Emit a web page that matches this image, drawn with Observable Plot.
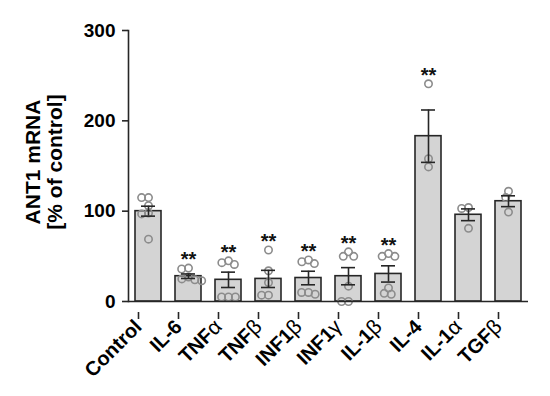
<!DOCTYPE html>
<html>
<head>
<meta charset="utf-8">
<script src="https://cdn.jsdelivr.net/npm/d3@7"></script>
<script src="https://cdn.jsdelivr.net/npm/@observablehq/plot@0.6"></script>
<style>
  html, body { margin: 0; padding: 0; background: #fff; }
</style>
</head>
<body>
<div id="chart"></div>
<script>
// ---- data ----
const categories = ["Control", "IL-6", "TNFα", "TNFβ", "INF1β", "INF1γ", "IL-1β", "IL-4", "IL-1α", "TGFβ"];
const means = [100, 28, 24, 25, 26, 28, 30.5, 183, 96, 111];
const sems  = [5.5, 2.5, 8.5, 9.5, 7.5, 9.5, 9, 29, 6.5, 6];
const stars = ["", "**", "**", "**", "**", "**", "**", "**", "", ""];

const ptsControl = [115, 115, 106, 98, 97, 69];
const ptsIL6     = [37, 36, 27, 25, 24, 23];
const ptsTNFa    = [45, 43, 41, 5, 5, 5];
const ptsTNFb    = [57, 34, 21, 7, 7];
const ptsINF1b   = [46, 44, 42, 10, 10, 8];
const ptsINF1g   = [55, 50, 50, 17, 0, 0];
const ptsIL1b    = [53, 50, 50, 15, 9, 8];
const ptsIL4     = [241, 158, 149];
const ptsIL1a    = [104, 103, 81];
const ptsTGFb    = [122, 115, 99];
const pointsByCategory = [ptsControl, ptsIL6, ptsTNFa, ptsTNFb, ptsINF1b, ptsINF1g, ptsIL1b, ptsIL4, ptsIL1a, ptsTGFb];

const yTicks = [0, 100, 200, 300];
const yLabelLines = ["ANT1 mRNA", "[% of control]"];

// ---- tables built from the arrays ----
const summary = categories.map((c, i) => ({
  cat: c, mean: means[i], sem: sems[i], star: stars[i], top: d3.max(pointsByCategory[i])
}));
const points = categories.flatMap((c, i) => pointsByCategory[i].map(v => ({cat: c, value: v})));

const ink = "#262626";
const lw = 1.6;

const svg = Plot.plot({
  width: 550,
  height: 396,
  marginLeft: 123,
  marginRight: 18,
  marginTop: 30,
  marginBottom: 95,
  style: {fontFamily: "'Liberation Sans', Arial, Helvetica, sans-serif", fontSize: "16px", color: "#000", background: "#fff"},
  fx: {domain: categories, padding: 0},
  y: {domain: [0, 300]},
  marks: [
    Plot.barY(summary, {fx: "cat", y: "mean", fill: "#d4d4d4", stroke: ink, strokeWidth: lw, insetLeft: 7, insetRight: 7}),
    Plot.dot(points, Plot.dodgeX({anchor: "middle", padding: -0.5}, {fx: "cat", y: "value", r: 3.7, fill: "none", stroke: "#8c8c8c", strokeWidth: 1.6})),
    Plot.ruleX(summary, {fx: "cat", x: null, y1: d => d.mean - d.sem, y2: d => d.mean + d.sem, stroke: ink, strokeWidth: lw}),
    Plot.tickY(summary, {fx: "cat", y: d => d.mean + d.sem, insetLeft: 13, insetRight: 13, stroke: ink, strokeWidth: lw}),
    Plot.tickY(summary, {fx: "cat", y: d => d.mean - d.sem, insetLeft: 13, insetRight: 13, stroke: ink, strokeWidth: lw}),
    Plot.text(summary.filter(d => d.star), {fx: "cat", y: "top", text: "star", dy: -8, fontSize: 20, fontWeight: "bold", fill: "#111"}),
    Plot.ruleY([0], {stroke: ink, strokeWidth: lw}),
    Plot.frame({anchor: "left", facetAnchor: "left", stroke: ink, strokeWidth: lw}),
    Plot.axisY({ticks: yTicks, tickSize: 6, tickPadding: 7, fontSize: 19, fontWeight: "bold", label: null, stroke: ink, strokeWidth: lw, fill: "#000"}),
    Plot.axisFx({anchor: "bottom", tickRotate: -45, tickSize: 7, tickPadding: 4, dx: -10, dy: 11, fontSize: 20, fontWeight: "bold", label: null, stroke: ink, strokeWidth: lw, fill: "#000"})
  ]
});

// Greek letters set lighter, as in the reference
d3.select(svg).selectAll("text").each(function () {
  const t = this.textContent;
  if (!categories.includes(t)) return;
  const m = t.match(/^(.*?)([αβγ])$/);
  if (!m) return;
  const sel = d3.select(this);
  sel.text(null);
  sel.append("tspan").text(m[1]);
  sel.append("tspan").attr("font-weight", "normal").attr("font-size", "21px").text(m[2]);
});

// two-line y-axis title
const g = d3.select(svg).append("g")
  .attr("font-size", 21).attr("font-weight", "bold").attr("fill", "#000").attr("text-anchor", "middle");
g.append("text").attr("transform", "translate(40,162) rotate(-90)").text(yLabelLines[0]);
g.append("text").attr("transform", "translate(62,162) rotate(-90)").text(yLabelLines[1]);

document.getElementById("chart").appendChild(svg);
</script>
</body>
</html>
